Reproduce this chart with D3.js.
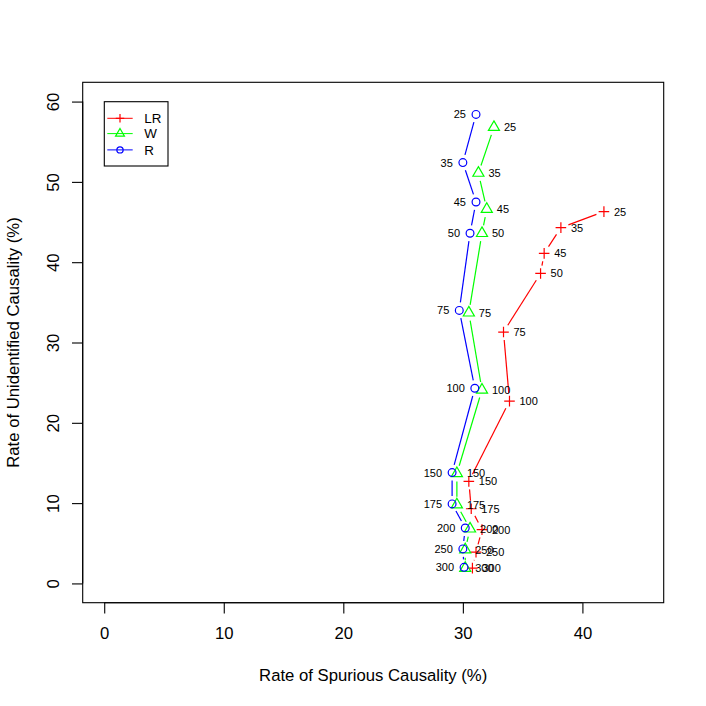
<html>
<head>
<script src="https://d3js.org/d3.v7.min.js"></script>
<style>
body { margin: 0; background: #fff; }
text { font-family: "Liberation Sans", Arial, sans-serif; fill: #000; }
</style>
</head>
<body>
<svg width="706" height="706"></svg>
<script>
// sample sizes used as point labels
var sizes = [25, 35, 45, 50, 75, 100, 150, 175, 200, 250, 300];

var lrX = [41.8, 38.2, 36.8, 36.5, 33.4, 33.9, 30.5, 30.7, 31.6, 31.1, 30.8];
var lrY = [46.3, 44.3, 41.1, 38.6, 31.3, 22.7, 12.7, 9.3, 6.7, 3.9, 1.9];
var wX = [32.6, 31.3, 32.0, 31.6, 30.5, 31.6, 29.5, 29.5, 30.6, 30.2, 30.2];
var wY = [56.8, 51.1, 46.6, 43.6, 33.7, 24.1, 13.7, 9.8, 6.8, 4.2, 1.9];
var rX = [31.1, 30.0, 31.1, 30.6, 29.7, 31.0, 29.1, 29.1, 30.2, 30.0, 30.1];
var rY = [58.4, 52.4, 47.5, 43.6, 34.0, 24.3, 13.8, 9.9, 6.9, 4.3, 2.0];

var xTicks = [0, 10, 20, 30, 40];
var yTicks = [0, 10, 20, 30, 40, 50, 60];
var legendNames = ["LR", "W", "R"];

var xlim = [0, 45], ylim = [0, 60];
var box = {left: 82.7, right: 663.7, top: 82.3, bottom: 602.7};

function pad(lim) {
    var d = (lim[1] - lim[0]) * 0.04;
    return [lim[0] - d, lim[1] + d];
}

var svg = d3.select("svg");
svg.append("rect").attr("width", 706).attr("height", 706).attr("fill", "#fff");

var x = d3.scaleLinear().domain(pad(xlim)).range([box.left, box.right]);
var y = d3.scaleLinear().domain(pad(ylim)).range([box.bottom, box.top]);

// axes
var xaxis = d3.axisBottom(x).tickValues(xTicks).tickSize(10.7).tickPadding(14);
var gx = svg.append("g").attr("transform", "translate(0," + box.bottom + ")").call(xaxis);
gx.select(".domain").attr("d", "M" + x(0) + ",0H" + x(40));
gx.selectAll("text").style("font-size", "16.7px").style("font-family", "Liberation Sans, Arial, sans-serif");

var yaxis = d3.axisLeft(y).tickValues(yTicks).tickSize(10.7);
var gy = svg.append("g").attr("transform", "translate(" + box.left + ",0)").call(yaxis);
gy.select(".domain").attr("d", "M0," + y(0) + "V" + y(60));
gy.selectAll("text")
    .attr("x", null).attr("dy", "0.36em")
    .attr("text-anchor", "middle")
    .attr("transform", "translate(-29.7,0) rotate(-90)")
    .style("font-size", "16.7px").style("font-family", "Liberation Sans, Arial, sans-serif");
svg.selectAll(".tick line, .domain").attr("stroke", "#000").attr("stroke-width", 1.1);

svg.append("rect")
    .attr("x", box.left).attr("y", box.top)
    .attr("width", box.right - box.left).attr("height", box.bottom - box.top)
    .attr("fill", "none").attr("stroke", "#000").attr("stroke-width", 1.1);

svg.append("text").text("Rate of Spurious Causality (%)")
    .attr("x", (box.left + box.right) / 2).attr("y", 675)
    .attr("dy", "0.36em").attr("text-anchor", "middle")
    .style("font-size", "16.7px");

svg.append("text").text("Rate of Unidentified Causality (%)")
    .attr("transform", "translate(13," + (box.top + box.bottom) / 2 + ") rotate(-90)")
    .attr("dy", "0.36em").attr("text-anchor", "middle")
    .style("font-size", "16.7px");

// symbols
function drawPch(g, pch, cx, cy, col, s) {
    if (pch == 3) {
        g.append("path").attr("d", "M" + (cx - 5.3 * s) + "," + cy + "H" + (cx + 5.3 * s) +
            "M" + cx + "," + (cy - 5.3 * s) + "V" + (cy + 5.3 * s))
            .attr("stroke", col).attr("stroke-width", 1.2).attr("fill", "none");
    } else if (pch == 2) {
        var r = 6.4 * s;
        var h = r * Math.sqrt(3) / 2;
        g.append("path").attr("d", "M" + cx + "," + (cy - r) + "L" + (cx + h) + "," + (cy + r / 2) +
            "L" + (cx - h) + "," + (cy + r / 2) + "Z")
            .attr("stroke", col).attr("stroke-width", 1.2).attr("fill", "none");
    } else {
        g.append("circle").attr("cx", cx).attr("cy", cy).attr("r", 3.9 * s)
            .attr("stroke", col).attr("stroke-width", 1.2).attr("fill", "none");
    }
}

var series = [
    {xs: lrX, ys: lrY, col: "#ff0000", pch: 3, pos: "right"},
    {xs: wX, ys: wY, col: "#00ff00", pch: 2, pos: "right"},
    {xs: rX, ys: rY, col: "#0000ff", pch: 1, pos: "left"}
];

var gap = 8;
for (var k = 0; k < series.length; k++) {
    var s = series[k];
    var g = svg.append("g");
    // type = "b": lines with gaps around the points
    for (var i = 0; i < s.xs.length - 1; i++) {
        var x0 = x(s.xs[i]), y0 = y(s.ys[i]), x1 = x(s.xs[i + 1]), y1 = y(s.ys[i + 1]);
        var len = Math.sqrt((x1 - x0) * (x1 - x0) + (y1 - y0) * (y1 - y0));
        if (len > 2 * gap) {
            var f = gap / len;
            g.append("line")
                .attr("x1", x0 + (x1 - x0) * f).attr("y1", y0 + (y1 - y0) * f)
                .attr("x2", x1 - (x1 - x0) * f).attr("y2", y1 - (y1 - y0) * f)
                .attr("stroke", s.col).attr("stroke-width", 1.2);
        }
    }
    for (var i = 0; i < s.xs.length; i++) {
        drawPch(g, s.pch, x(s.xs[i]), y(s.ys[i]), s.col, 1);
        g.append("text").text(sizes[i])
            .attr("x", x(s.xs[i]) + (s.pos == "right" ? 10 : -10))
            .attr("y", y(s.ys[i]))
            .attr("dy", "0.36em")
            .attr("text-anchor", s.pos == "right" ? "start" : "end")
            .style("font-size", "11px");
    }
}

// legend
var lg = svg.append("g");
lg.append("rect").attr("x", 104.3).attr("y", 101.7).attr("width", 63.7).attr("height", 64.3)
    .attr("fill", "#fff").attr("stroke", "#000").attr("stroke-width", 1.1);
var legendY = [118.3, 133.6, 149.9];
for (var k = 0; k < legendNames.length; k++) {
    lg.append("line").attr("x1", 107.3).attr("x2", 132.7)
        .attr("y1", legendY[k]).attr("y2", legendY[k]).attr("stroke", series[k].col);
    drawPch(lg, series[k].pch, 120, legendY[k], series[k].col, 0.8);
    lg.append("text").text(legendNames[k])
        .attr("x", 144.3).attr("y", legendY[k]).attr("dy", "0.36em")
        .style("font-size", "13.4px");
}
</script>
</body>
</html>
